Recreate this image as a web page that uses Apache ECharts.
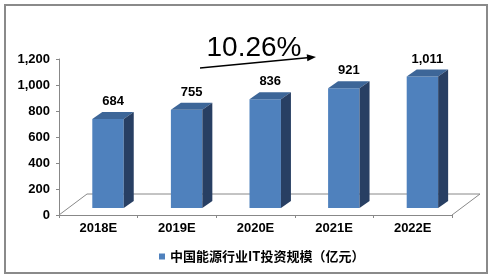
<!DOCTYPE html>
<html>
<head>
<meta charset="utf-8">
<script src="https://cdn.jsdelivr.net/npm/echarts@6/dist/echarts.min.js"></script>
<style>
  html, body { margin: 0; padding: 0; background: #fff; }
  #chart { width: 495px; height: 280px; }
</style>
</head>
<body>
<div id="chart"></div>
<script>
const years = ["2018E", "2019E", "2020E", "2021E", "2022E"];
const invest = [684, 755, 836, 921, 1011];
const seriesName = "中国能源行业IT投资规模（亿元）";
const growthLabel = "10.26%";

const chart = echarts.init(document.getElementById("chart"));

// 3d look, pixel offsets
const faceColor = "#4F81BD";
const topColor = "#3D6698";
const sideColor = "#283F63";
const depthX = 10, depthY = 7, lift = 7, shift = -6;
const axisGray = "#888";
const labelFont = 'bold 13px "Liberation Sans", Arial, sans-serif';

const fmt = (v) => v.toLocaleString("en-US");

const renderBar = (params, api) => {
  const i = api.value(0);
  const v = api.value(1);
  const base = api.coord([i, 0]);
  const top = api.coord([i, v]);
  const bw = api.size([1, 0])[0] * 0.4;
  const L = base[0] + shift, R = L + bw;
  const B = base[1] - lift, T = top[1] - lift;
  return {
    type: "group",
    children: [
      { type: "rect", shape: { x: L, y: T, width: bw, height: B - T }, style: { fill: faceColor } },
      {
        type: "polygon",
        shape: { points: [[L, T], [L + depthX, T - depthY], [R + depthX, T - depthY], [R, T]] },
        style: { fill: topColor },
      },
      {
        type: "polygon",
        shape: { points: [[R, T], [R + depthX, T - depthY], [R + depthX, B - depthY], [R, B]] },
        style: { fill: sideColor },
      },
      {
        type: "text",
        style: {
          text: fmt(v),
          x: (L + R + depthX) / 2,
          y: T - depthY - 4,
          align: "center",
          verticalAlign: "bottom",
          font: labelFont,
          fill: "#000",
        },
      },
    ],
  };
};

// floor of the 3d plot
const renderFloor = (params, api) => {
  const cs = params.coordSys;
  const fx = 28, fy = 21;
  const x0 = cs.x, x1 = cs.x + cs.width, y0 = cs.y + cs.height;
  return {
    type: "polyline",
    shape: { points: [[x0, y0], [x0 + fx, y0 - fy], [x1 + fx, y0 - fy], [x1, y0]] },
    style: { stroke: axisGray, lineWidth: 1, fill: null },
    silent: true,
  };
};

// arrow under the growth label
const arrowFrom = [200, 68], arrowTo = [316, 57];
const ax = arrowTo[0] - arrowFrom[0], ay = arrowTo[1] - arrowFrom[1];
const alen = Math.sqrt(ax * ax + ay * ay);
const ux = ax / alen, uy = ay / alen;
const headL = 9, headW = 3.5;
const hb = [arrowTo[0] - ux * headL, arrowTo[1] - uy * headL];

const opt = {
  animation: false,
  grid: { left: 59, right: 43, top: 59, bottom: 65, containLabel: false },
  xAxis: {
    type: "category",
    data: years,
    axisLine: { lineStyle: { color: axisGray } },
    axisTick: { show: true, length: 3, lineStyle: { color: axisGray } },
    axisLabel: { margin: 7, color: "#000", fontWeight: "bold", fontSize: 13, fontFamily: '"Liberation Sans", Arial' },
  },
  yAxis: {
    type: "value",
    min: 0,
    max: 1200,
    interval: 200,
    axisLine: { show: true, lineStyle: { color: axisGray } },
    axisTick: { show: true, length: 3, lineStyle: { color: axisGray } },
    splitLine: { show: false },
    axisLabel: {
      margin: 9,
      color: "#000",
      fontWeight: "bold",
      fontSize: 13,
      fontFamily: '"Liberation Sans", Arial',
      formatter: (v) => fmt(v),
    },
  },
  legend: {
    data: [{ name: seriesName, icon: "rect" }],
    left: 154,
    top: 245,
    itemWidth: 6,
    itemHeight: 6,
    textStyle: { color: "#000", fontWeight: "bold", fontSize: 13, fontFamily: '"Noto Sans CJK SC"' },
  },
  series: [
    { type: "custom", name: "floor", data: [[0]], renderItem: renderFloor, z: 1, silent: true },
    {
      type: "custom",
      name: seriesName,
      data: invest.map((v, i) => [i, v]),
      renderItem: renderBar,
      itemStyle: { color: faceColor },
      z: 2,
    },
  ],
  graphic: [
    {
      type: "rect",
      shape: { x: 5, y: 5, width: 482, height: 268 },
      style: { fill: null, stroke: "#8a8a8a", lineWidth: 2 },
      z: 0,
    },
    {
      type: "text",
      style: {
        text: growthLabel,
        x: 254,
        y: 48,
        align: "center",
        verticalAlign: "middle",
        font: '28px "Liberation Sans", Arial, sans-serif',
        fill: "#000",
      },
    },
    {
      type: "line",
      shape: { x1: arrowFrom[0], y1: arrowFrom[1], x2: hb[0], y2: hb[1] },
      style: { stroke: "#000", lineWidth: 1.5 },
    },
    {
      type: "polygon",
      shape: {
        points: [
          arrowTo,
          [hb[0] - uy * headW, hb[1] + ux * headW],
          [hb[0] + uy * headW, hb[1] - ux * headW],
        ],
      },
      style: { fill: "#000" },
    },
  ],
};

chart.setOption(opt);
</script>
</body>
</html>
